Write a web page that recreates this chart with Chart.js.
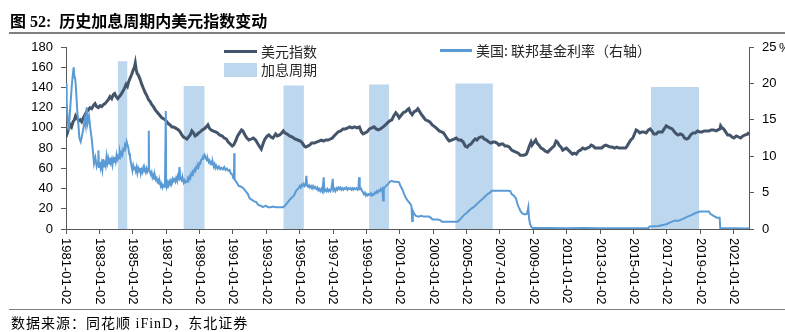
<!DOCTYPE html>
<html>
<head>
<meta charset="utf-8">
<script src="https://cdn.jsdelivr.net/npm/chart.js@4.4.0/dist/chart.umd.min.js"></script>
<style>
  body { margin: 0; background: #fff; }
  #wrap { position: relative; width: 785px; height: 332px; overflow: hidden; }
  #title { position: absolute; left: 10px; top: 8px; font: bold 16px "Liberation Serif", "Noto Sans CJK SC"; color: #000; white-space: pre; }
  #rule1 { position: absolute; left: 9px; right: 0; top: 32px; height: 2px; background: #808080; }
  #rule2 { position: absolute; left: 9px; right: 0; top: 309px; height: 1px; background: #808080; }
  #source { position: absolute; left: 11px; top: 312px; font: 14px "Liberation Serif", "Noto Sans CJK SC"; letter-spacing: 1px; color: #000; white-space: pre; }
  canvas { position: absolute; left: 0; top: 0; }
</style>
</head>
<body>
<div id="wrap">
  <canvas id="chart" width="785" height="332"></canvas>
  <div id="title">图 52:  历史加息周期内美元指数变动</div>
  <div id="rule1"></div>
  <div id="rule2"></div>
  <div id="source">数据来源：同花顺 iFinD，东北证券</div>
</div>
<script>
// x axis tick labels (every two years)
const tickYears = [1981, 1983, 1985, 1987, 1989, 1991, 1993, 1995, 1997, 1999, 2001,
                   2003, 2005, 2007, 2009, 2011, 2013, 2015, 2017, 2019, 2021];
const tickLabels = tickYears.map(y => y + "-01-02");

// 美元指数 (left axis)
const usdYears = [
  1981.00,1981.08,1981.16,1981.25,1981.33,1981.42,1981.50,1981.58,1981.66,1981.75,
  1981.85,1981.94,1982.04,1982.14,1982.24,1982.34,1982.44,1982.54,1982.64,1982.74,
  1982.84,1982.94,1983.04,1983.14,1983.24,1983.34,1983.44,1983.54,1983.64,1983.74,
  1983.84,1983.92,1984.00,1984.10,1984.20,1984.30,1984.40,1984.50,1984.60,1984.68,
  1984.76,1984.86,1984.94,1985.02,1985.10,1985.15,1985.20,1985.26,1985.34,1985.44,
  1985.54,1985.64,1985.74,1985.84,1985.94,1986.04,1986.14,1986.24,1986.34,1986.44,
  1986.54,1986.64,1986.74,1986.84,1986.94,1987.04,1987.14,1987.24,1987.34,1987.44,
  1987.54,1987.64,1987.74,1987.84,1987.94,1988.04,1988.14,1988.24,1988.34,1988.44,
  1988.54,1988.64,1988.74,1988.84,1988.94,1989.04,1989.16,1989.28,1989.40,1989.50,
  1989.58,1989.68,1989.80,1989.96,1990.08,1990.20,1990.36,1990.48,1990.60,1990.72,
  1990.84,1990.96,1991.04,1991.16,1991.28,1991.40,1991.52,1991.60,1991.72,1991.84,
  1991.96,1992.10,1992.22,1992.36,1992.50,1992.62,1992.70,1992.80,1992.92,1993.06,
  1993.16,1993.28,1993.40,1993.56,1993.66,1993.80,1993.92,1994.02,1994.12,1994.24,
  1994.40,1994.56,1994.72,1994.88,1995.04,1995.16,1995.28,1995.36,1995.48,1995.60,
  1995.72,1995.88,1996.00,1996.16,1996.30,1996.44,1996.56,1996.70,1996.84,1996.96,
  1997.06,1997.18,1997.30,1997.46,1997.60,1997.74,1997.88,1998.00,1998.14,1998.28,
  1998.44,1998.58,1998.70,1998.80,1998.92,1999.04,1999.18,1999.32,1999.46,1999.58,
  1999.70,1999.84,2000.00,2000.14,2000.26,2000.40,2000.52,2000.64,2000.76,2000.86,
  2000.96,2001.06,2001.20,2001.34,2001.46,2001.54,2001.64,2001.74,2001.86,2001.98,
  2002.08,2002.16,2002.26,2002.40,2002.54,2002.68,2002.80,2002.94,2003.10,2003.24,
  2003.36,2003.50,2003.62,2003.74,2003.86,2003.96,2004.10,2004.24,2004.38,2004.52,
  2004.66,2004.80,2004.92,2005.04,2005.14,2005.26,2005.40,2005.52,2005.62,2005.72,
  2005.84,2005.96,2006.06,2006.20,2006.34,2006.46,2006.58,2006.70,2006.82,2006.94,
  2007.06,2007.18,2007.30,2007.44,2007.56,2007.70,2007.82,2007.96,2008.10,2008.22,
  2008.34,2008.46,2008.58,2008.66,2008.76,2008.86,2008.92,2009.00,2009.14,2009.22,
  2009.34,2009.46,2009.58,2009.72,2009.86,2009.98,2010.10,2010.24,2010.36,2010.44,
  2010.54,2010.66,2010.76,2010.86,2010.98,2011.10,2011.22,2011.34,2011.46,2011.58,
  2011.70,2011.82,2011.96,2012.10,2012.22,2012.36,2012.46,2012.58,2012.70,2012.84,
  2012.96,2013.10,2013.22,2013.34,2013.48,2013.60,2013.74,2013.86,2014.00,2014.14,
  2014.28,2014.40,2014.52,2014.62,2014.72,2014.84,2014.96,2015.06,2015.16,2015.26,
  2015.38,2015.50,2015.62,2015.76,2015.90,2016.00,2016.10,2016.22,2016.36,2016.48,
  2016.60,2016.72,2016.84,2016.96,2017.06,2017.18,2017.32,2017.46,2017.58,2017.68,
  2017.80,2017.94,2018.06,2018.18,2018.30,2018.42,2018.56,2018.70,2018.84,2018.96,
  2019.10,2019.24,2019.38,2019.52,2019.66,2019.80,2019.94,2020.06,2020.18,2020.22,
  2020.30,2020.40,2020.52,2020.64,2020.76,2020.90,2021.02,2021.16,2021.30,2021.42,
  2021.56,2021.70,2021.86,2021.92
];
const usdValues = [
  91,95,99,103,101,106,108,112,110,107,
  108,106,110,113,116,118,120,119,122,124,
  121,120,122,121,123,124,126,128,131,129,
  133,134,131,129,131,133,136,139,143,141,
  146,150,153,157,160,164,158,154,152,148,
  143,139,135,132,128,126,123,121,118,116,
  114,112,110,109,108,106,104,103,101,101,
  100,99,98,96,93,91,90,89,91,93,
  97,95,92,93,95,96,98,99,101,103,
  100,98,97,96,95,93,92,90,89,86,
  84,82,83,87,92,95,98,97,93,90,
  88,89,90,88,84,81,79,84,89,92,
  93,91,90,94,92,93,95,97,95,94,
  92,91,89,88,87,85,82,81,82,83,
  85,85,86,87,88,87,88,88,89,90,
  92,94,96,97,99,99,100,101,100,101,
  100,101,96,94,95,96,99,100,101,99,
  98,99,101,103,105,107,108,112,115,113,
  110,112,115,116,118,119,115,113,116,117,
  119,117,114,111,108,107,106,103,101,99,
  97,96,95,92,89,87,88,89,90,88,
  88,86,82,81,83,84,87,89,88,90,
  91,91,89,88,86,85,86,86,85,83,
  84,84,82,82,81,78,77,76,75,73,
  73,73,74,77,82,86,83,85,88,85,
  83,80,79,77,76,78,80,82,87,86,
  83,81,78,79,80,78,76,74,75,74,
  77,78,80,79,80,81,83,82,80,80,
  80,80,82,83,82,81,81,80,81,80,
  80,80,80,82,85,88,90,94,98,97,
  95,96,96,95,98,99,97,94,94,96,
  96,96,99,102,101,100,99,96,94,93,
  94,93,90,89,90,93,95,95,97,96,
  96,97,97,97,98,98,97,98,99,102,
  100,99,96,93,93,91,90,92,91,90,
  92,93,94,96
];

// 美国:联邦基金利率 (right axis, %)
const ffrYears = [
  1981.00,1981.04,1981.10,1981.16,1981.22,1981.28,1981.34,1981.40,1981.46,1981.50,
  1981.56,1981.62,1981.68,1981.74,1981.80,1981.88,1981.96,1982.04,1982.12,1982.18,
  1982.24,1982.30,1982.38,1982.46,1982.54,1982.62,1982.68,1982.76,1982.84,1982.92,
  1982.94,
  1982.98,1983.03,1983.08,1983.13,1983.18,1983.23,1983.28,1983.33,1983.38,1983.43,
  1983.48,1983.53,1983.58,1983.63,1983.68,1983.73,1983.78,1983.83,1983.88,1983.93,
  1983.98,1984.03,1984.08,1984.13,1984.18,1984.23,1984.28,1984.33,1984.38,1984.43,
  1984.48,1984.53,1984.58,1984.63,1984.68,1984.73,1984.78,1984.83,1984.88,1984.93,
  1984.98,1985.03,1985.08,1985.13,1985.18,1985.23,1985.28,1985.33,1985.38,1985.43,
  1985.48,1985.53,1985.58,1985.63,1985.68,1985.73,1985.78,1985.83,1985.88,1985.93,
  1985.96,1985.98,1986.03,1986.08,1986.13,1986.18,1986.23,1986.28,1986.33,1986.38,
  1986.43,1986.48,1986.53,1986.58,1986.63,1986.68,1986.73,1986.78,1986.83,1986.88,
  1986.93,1986.98,1987.00,1987.05,1987.10,1987.15,1987.20,1987.25,1987.30,1987.35,
  1987.40,1987.45,1987.50,1987.55,1987.60,1987.65,1987.70,1987.75,1987.80,1987.85,
  1987.90,1987.95,1988.00,1988.05,1988.10,1988.15,1988.20,1988.25,1988.30,1988.35,
  1988.40,1988.45,1988.50,1988.55,1988.60,1988.65,1988.70,1988.75,1988.80,1988.85,
  1988.90,1988.95,1989.00,1989.05,1989.10,1989.15,1989.20,1989.25,1989.30,1989.35,
  1989.40,1989.45,1989.50,1989.55,1989.60,1989.65,1989.70,1989.75,1989.80,1989.85,
  1989.90,1989.95,1990.00,1990.08,1990.16,1990.24,1990.32,1990.40,1990.48,1990.56,
  1990.64,1990.72,1990.80,1990.88,1990.96,1991.02,1991.06,1991.08,1991.10,
  1991.22,1991.36,1991.50,1991.62,1991.76,1991.90,1992.00,1992.14,1992.28,1992.40,
  1992.52,1992.66,1992.80,1992.96,1993.10,1993.26,1993.40,1993.56,1993.70,1993.86,
  1994.00,1994.12,1994.26,1994.40,1994.52,1994.66,1994.80,
  1994.94,1995.00,1995.06,1995.12,1995.18,1995.24,1995.30,1995.36,1995.40,1995.44,
  1995.50,1995.56,1995.62,1995.68,1995.74,1995.80,1995.86,1995.92,1996.00,1996.06,
  1996.12,1996.18,1996.24,1996.30,1996.36,1996.44,1996.48,1996.54,1996.60,1996.66,
  1996.72,1996.78,1996.84,1996.90,1996.98,1997.02,1997.08,1997.14,1997.20,1997.26,
  1997.32,1997.38,1997.44,1997.50,1997.56,1997.62,1997.68,1997.74,1997.80,1997.86,
  1997.92,1997.98,1998.04,1998.10,1998.16,1998.22,1998.28,1998.34,1998.40,1998.46,
  1998.52,1998.56,1998.60,1998.66,1998.72,1998.78,1998.84,1998.90,1998.96,1999.02,
  1999.08,1999.14,1999.20,1999.26,1999.32,1999.38,1999.44,1999.50,1999.56,1999.62,
  1999.68,1999.74,1999.80,1999.86,1999.92,1999.96,2000.00,2000.04,2000.10,2000.16,
  2000.28,2000.40,2000.52,2000.66,2000.80,2000.96,2001.04,2001.14,2001.26,
  2001.38,2001.50,2001.62,2001.70,2001.74,2001.78,2001.86,2001.96,2002.12,2002.28,
  2002.44,2002.60,2002.76,2002.88,2002.96,2003.12,2003.28,2003.44,2003.52,2003.68,
  2003.84,2004.00,2004.20,2004.44,2004.52,2004.64,2004.76,2004.88,2005.00,2005.14,
  2005.28,2005.42,2005.56,2005.70,2005.84,2005.98,2006.12,2006.26,2006.40,2006.50,
  2006.70,2006.90,2007.10,2007.30,2007.50,2007.62,2007.70,2007.82,2007.96,2008.04,
  2008.12,2008.24,2008.36,2008.50,2008.62,2008.70,2008.74,2008.80,2008.88,2008.96,
  2010.00,2011.00,2012.00,2013.00,2014.00,2015.00,2015.90,2015.96,2016.50,2016.96,
  2017.20,2017.46,2017.70,2017.96,2018.24,2018.46,2018.72,2018.96,2019.30,2019.52,
  2019.60,2019.80,2020.00,2020.16,2020.20,2021.00,2021.92
];
const ffrValues = [
  20.0,17.5,15.0,13.5,15.5,17.5,19.5,21.0,22.2,21.0,
  20.5,18.5,16.0,14.5,12.5,12.0,12.8,13.8,15.0,14.2,
  16.7,14.6,15.5,13.8,12.4,10.5,9.0,9.8,8.6,9.2,
  10.8,
  8.5,9.2,8.4,9.0,8.2,9.6,8.6,9.4,8.8,10.0,
  9.1,9.7,9.0,9.8,9.1,9.5,8.8,9.6,9.2,9.9,
  9.3,10.2,9.6,10.0,9.7,10.6,10.1,10.5,10.2,11.0,
  10.8,11.5,11.3,12.0,11.6,11.2,10.4,10.0,9.2,8.6,
  8.0,8.7,8.2,8.6,8.0,8.5,7.7,8.3,7.9,8.4,
  7.6,8.1,7.8,8.4,7.9,8.2,7.8,8.3,7.9,8.2,
  13.5,8.0,7.9,7.5,7.8,7.1,7.4,6.9,7.3,6.8,
  7.0,6.5,6.7,6.2,6.4,5.9,6.2,5.7,6.0,5.8,
  6.1,16.2,6.2,6.0,6.4,6.0,6.5,6.2,6.7,6.5,
  6.9,6.6,6.8,6.5,7.0,6.7,7.3,7.0,8.5,6.9,
  7.0,6.6,6.9,6.4,6.7,6.4,6.6,6.5,6.9,6.7,
  7.2,7.0,7.6,7.4,7.9,7.8,8.2,8.0,8.5,8.3,
  8.8,8.6,9.1,9.0,9.5,9.6,9.9,9.8,10.2,10.0,
  9.6,9.4,9.6,9.2,9.4,9.0,9.2,8.9,9.1,8.6,
  8.9,8.4,8.7,8.3,8.6,8.2,8.4,8.2,8.5,8.1,
  8.3,8.0,8.1,7.6,7.5,7.0,6.9,10.4,6.8,
  6.4,5.9,5.8,5.6,5.2,4.8,4.2,4.0,3.8,3.7,
  3.3,3.2,3.0,3.2,3.0,3.0,3.1,3.0,3.0,3.0,
  3.0,3.2,3.6,4.0,4.3,4.6,5.3,
  5.6,5.9,5.7,6.1,5.9,6.2,5.9,6.1,7.3,6.0,
  5.8,6.0,5.7,5.9,5.6,5.9,5.6,5.8,5.5,5.7,
  5.3,5.5,5.2,5.5,5.2,7.1,5.2,5.4,5.2,5.5,
  5.2,5.4,5.2,5.5,6.9,5.3,5.5,5.2,5.6,5.4,
  5.7,5.5,5.7,5.4,5.6,5.4,5.6,5.5,5.7,5.4,
  5.6,5.5,5.6,5.4,5.6,5.4,5.6,5.5,5.6,5.4,
  5.6,7.1,5.5,5.6,5.3,5.1,4.8,5.0,4.6,4.8,
  4.6,4.8,4.7,4.9,4.6,4.8,4.7,5.0,4.9,5.2,
  5.0,5.3,5.2,5.5,5.3,5.5,3.9,5.6,5.7,5.9,
  6.1,6.5,6.6,6.5,6.5,6.4,5.9,5.5,4.8,
  4.2,3.8,3.5,3.1,1.1,2.5,2.1,1.8,1.7,1.8,
  1.7,1.7,1.7,1.5,1.3,1.3,1.3,1.2,1.0,1.0,
  1.0,1.0,1.0,1.0,1.1,1.4,1.7,2.0,2.2,2.5,
  2.8,3.0,3.3,3.6,3.9,4.2,4.5,4.8,5.0,5.25,
  5.25,5.25,5.25,5.25,5.25,5.2,4.8,4.6,4.2,3.5,
  3.0,2.4,2.1,2.0,2.1,3.0,1.5,0.7,0.3,0.15,
  0.15,0.12,0.14,0.12,0.09,0.12,0.12,0.36,0.4,0.65,
  0.9,1.15,1.15,1.4,1.7,1.9,2.2,2.4,2.4,2.4,
  2.1,1.8,1.55,1.55,0.1,0.09,0.08
];

// 加息周期 (shaded bands, height on left axis)
const hikeStart = [1984.10, 1988.05, 1994.03, 1999.16, 2004.33, 2016.05];
const hikeEnd   = [1984.67, 1989.30, 1995.25, 2000.35, 2006.57, 2018.94];
const hikeTop   = [166, 141.5, 142, 143, 144, 140.5];

const DARK = "#44546A";
const BLUE = "#5B9BD5";
const BAND = "#BDD7EE";
const AXIS = "#595959";

const hikeData = [];
hikeStart.forEach((s, i) => {
    hikeData.push({ x: s, y: 0 }, { x: s, y: hikeTop[i] }, { x: hikeEnd[i], y: hikeTop[i] }, { x: hikeEnd[i], y: 0 });
});

// rotated x labels, custom legend, "%" unit
const decor = {
    id: "decor",
    afterDraw(chart) {
        const c = chart.ctx;
        const xs = chart.scales.x;
        c.save();
        c.fillStyle = "#000";
        c.font = '13px "Liberation Sans"';
        c.textBaseline = "middle";
        c.textAlign = "left";
        tickYears.forEach((yr, i) => {
            c.save();
            c.translate(xs.getPixelForValue(yr), xs.top + 9);
            c.rotate(Math.PI / 2);
            c.fillText(tickLabels[i], 0, 0);
            c.restore();
        });

        c.fillText("%", 779, chart.scales.y1.getPixelForValue(25) + 1);

        c.font = '14px "Noto Sans CJK SC"';
        c.fillStyle = "#262626";
        c.lineWidth = 3;
        c.strokeStyle = DARK;
        c.beginPath(); c.moveTo(224, 51.5); c.lineTo(257, 51.5); c.stroke();
        c.fillText("美元指数", 261, 52);
        c.fillStyle = BAND;
        c.fillRect(224, 63, 33, 14);
        c.fillStyle = "#262626";
        c.fillText("加息周期", 261, 70);
        c.strokeStyle = BLUE;
        c.beginPath(); c.moveTo(440, 50.5); c.lineTo(472, 50.5); c.stroke();
        c.fillText("美国: 联邦基金利率（右轴）", 476, 51);
        c.restore();
    }
};

const tickFont = { size: 13, family: "Liberation Sans" };

new Chart(document.getElementById("chart"), {
    type: "line",
    data: {
        datasets: [
            {
                label: "美国:联邦基金利率(右轴)",
                data: ffrYears.map((x, i) => ({ x: x, y: ffrValues[i] })),
                yAxisID: "y1",
                borderColor: BLUE,
                borderWidth: 2,
                pointRadius: 0,
                tension: 0
            },
            {
                label: "美元指数",
                data: usdYears.map((x, i) => ({ x: x, y: usdValues[i] })),
                yAxisID: "y",
                borderColor: DARK,
                borderWidth: 3,
                pointRadius: 0,
                tension: 0
            },
            {
                label: "加息周期",
                data: hikeData,
                yAxisID: "y",
                fill: "origin",
                backgroundColor: BAND,
                borderColor: BAND,
                borderWidth: 0,
                pointRadius: 0,
                tension: 0
            }
        ]
    },
    options: {
        responsive: false,
        animation: false,
        layout: { padding: { top: 47, left: 0, right: 0, bottom: 0 } },
        plugins: { legend: { display: false }, tooltip: { enabled: false } },
        scales: {
            x: {
                type: "linear",
                min: 1981,
                max: 2021.92,
                afterBuildTicks: s => { s.ticks = tickYears.map(v => ({ value: v })); },
                afterFit: s => { s.height = 103; },
                grid: { drawOnChartArea: false, tickLength: 5, color: AXIS },
                border: { color: AXIS },
                ticks: { color: "rgba(0,0,0,0)", autoSkip: false, maxRotation: 0, font: tickFont }
            },
            y: {
                position: "left",
                min: 0,
                max: 180,
                afterFit: s => { s.width = 66; },
                grid: { drawOnChartArea: false, tickLength: 5, color: AXIS },
                border: { color: AXIS },
                ticks: { stepSize: 20, color: "#000", padding: 8, font: tickFont }
            },
            y1: {
                position: "right",
                min: 0,
                max: 25,
                afterFit: s => { s.width = 36; },
                grid: { drawOnChartArea: false, tickLength: 5, color: AXIS },
                border: { color: AXIS },
                ticks: { stepSize: 5, color: "#000", padding: 8, font: tickFont }
            }
        }
    },
    plugins: [decor]
});
</script>
</body>
</html>
